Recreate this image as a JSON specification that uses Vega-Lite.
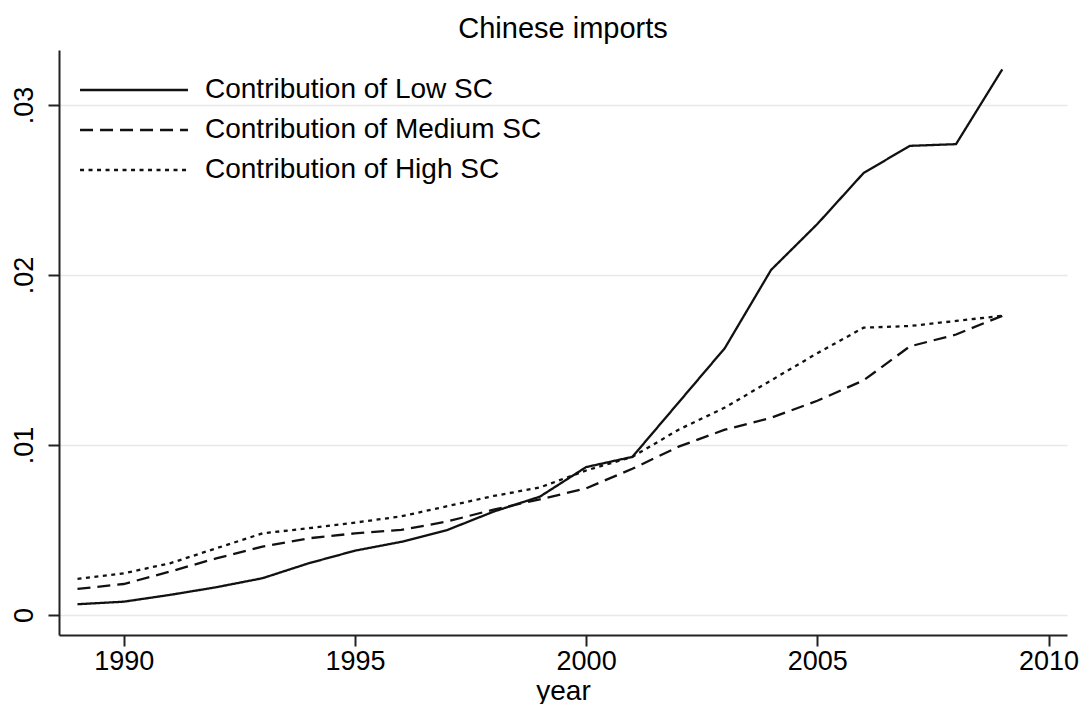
{
  "$schema": "https://vega.github.io/schema/vega-lite/v6.json",
  "width": 1008,
  "height": 585,
  "autosize": {"type": "none"},
  "padding": {"left": 59, "top": 50, "right": 16, "bottom": 69},
  "background": "white",
  "title": {"text": "Chinese imports", "fontSize": 29, "font": "Liberation Sans", "fontWeight": "normal", "color": "#000000", "anchor": "middle", "offset": 6},
  "config": {"view": {"stroke": null}, "font": "Liberation Sans"},
  "data": {
    "values": [
      {"year": 1989, "series": "Contribution of Low SC", "value": 0.00063},
      {"year": 1990, "series": "Contribution of Low SC", "value": 0.00078},
      {"year": 1991, "series": "Contribution of Low SC", "value": 0.00118},
      {"year": 1992, "series": "Contribution of Low SC", "value": 0.00163},
      {"year": 1993, "series": "Contribution of Low SC", "value": 0.00216},
      {"year": 1994, "series": "Contribution of Low SC", "value": 0.00304},
      {"year": 1995, "series": "Contribution of Low SC", "value": 0.00378},
      {"year": 1996, "series": "Contribution of Low SC", "value": 0.0043},
      {"year": 1997, "series": "Contribution of Low SC", "value": 0.005},
      {"year": 1998, "series": "Contribution of Low SC", "value": 0.00608},
      {"year": 1999, "series": "Contribution of Low SC", "value": 0.00696},
      {"year": 2000, "series": "Contribution of Low SC", "value": 0.0087},
      {"year": 2001, "series": "Contribution of Low SC", "value": 0.0093},
      {"year": 2002, "series": "Contribution of Low SC", "value": 0.0125},
      {"year": 2003, "series": "Contribution of Low SC", "value": 0.0157},
      {"year": 2004, "series": "Contribution of Low SC", "value": 0.0203},
      {"year": 2005, "series": "Contribution of Low SC", "value": 0.023},
      {"year": 2006, "series": "Contribution of Low SC", "value": 0.026},
      {"year": 2007, "series": "Contribution of Low SC", "value": 0.0276},
      {"year": 2008, "series": "Contribution of Low SC", "value": 0.0277},
      {"year": 2009, "series": "Contribution of Low SC", "value": 0.0321},
      {"year": 1989, "series": "Contribution of Medium SC", "value": 0.00153},
      {"year": 1990, "series": "Contribution of Medium SC", "value": 0.00182},
      {"year": 1991, "series": "Contribution of Medium SC", "value": 0.00255},
      {"year": 1992, "series": "Contribution of Medium SC", "value": 0.00333},
      {"year": 1993, "series": "Contribution of Medium SC", "value": 0.00402},
      {"year": 1994, "series": "Contribution of Medium SC", "value": 0.00451},
      {"year": 1995, "series": "Contribution of Medium SC", "value": 0.0048},
      {"year": 1996, "series": "Contribution of Medium SC", "value": 0.005},
      {"year": 1997, "series": "Contribution of Medium SC", "value": 0.0055},
      {"year": 1998, "series": "Contribution of Medium SC", "value": 0.0062},
      {"year": 1999, "series": "Contribution of Medium SC", "value": 0.0068},
      {"year": 2000, "series": "Contribution of Medium SC", "value": 0.00745},
      {"year": 2001, "series": "Contribution of Medium SC", "value": 0.0086},
      {"year": 2002, "series": "Contribution of Medium SC", "value": 0.0099},
      {"year": 2003, "series": "Contribution of Medium SC", "value": 0.0109},
      {"year": 2004, "series": "Contribution of Medium SC", "value": 0.0116},
      {"year": 2005, "series": "Contribution of Medium SC", "value": 0.0126},
      {"year": 2006, "series": "Contribution of Medium SC", "value": 0.0138},
      {"year": 2007, "series": "Contribution of Medium SC", "value": 0.0158},
      {"year": 2008, "series": "Contribution of Medium SC", "value": 0.0165},
      {"year": 2009, "series": "Contribution of Medium SC", "value": 0.0176},
      {"year": 1989, "series": "Contribution of High SC", "value": 0.00212},
      {"year": 1990, "series": "Contribution of High SC", "value": 0.00245},
      {"year": 1991, "series": "Contribution of High SC", "value": 0.00304},
      {"year": 1992, "series": "Contribution of High SC", "value": 0.00392},
      {"year": 1993, "series": "Contribution of High SC", "value": 0.0048},
      {"year": 1994, "series": "Contribution of High SC", "value": 0.0051},
      {"year": 1995, "series": "Contribution of High SC", "value": 0.00543},
      {"year": 1996, "series": "Contribution of High SC", "value": 0.0058},
      {"year": 1997, "series": "Contribution of High SC", "value": 0.0064},
      {"year": 1998, "series": "Contribution of High SC", "value": 0.007},
      {"year": 1999, "series": "Contribution of High SC", "value": 0.0075},
      {"year": 2000, "series": "Contribution of High SC", "value": 0.0085},
      {"year": 2001, "series": "Contribution of High SC", "value": 0.0093},
      {"year": 2002, "series": "Contribution of High SC", "value": 0.0109},
      {"year": 2003, "series": "Contribution of High SC", "value": 0.0122},
      {"year": 2004, "series": "Contribution of High SC", "value": 0.0138},
      {"year": 2005, "series": "Contribution of High SC", "value": 0.0154},
      {"year": 2006, "series": "Contribution of High SC", "value": 0.0169},
      {"year": 2007, "series": "Contribution of High SC", "value": 0.017},
      {"year": 2008, "series": "Contribution of High SC", "value": 0.0173},
      {"year": 2009, "series": "Contribution of High SC", "value": 0.0176}
    ]
  },
  "mark": {"type": "line", "strokeWidth": 2.3, "color": "#111111"},
  "encoding": {
    "x": {
      "field": "year", "type": "quantitative",
      "scale": {"domain": [1988.6, 2010.4], "nice": false, "zero": false},
      "axis": {
        "values": [1990, 1995, 2000, 2005, 2010], "format": "d",
        "title": "year", "titleFontSize": 28, "titleFontWeight": "normal", "titleColor": "#000000", "titlePadding": 3,
        "labelFontSize": 27, "labelColor": "#000000", "labelPadding": 2, "labelFlush": false,
        "tickSize": 11, "tickWidth": 2, "tickColor": "#222222",
        "domainColor": "#222222", "domainWidth": 2, "grid": false
      }
    },
    "y": {
      "field": "value", "type": "quantitative",
      "scale": {"domain": [-0.00118, 0.03324], "nice": false, "zero": false},
      "axis": {
        "values": [0, 0.01, 0.02, 0.03],
        "labelExpr": "datum.value == 0 ? '0' : replace(format(datum.value, '.2f'), '0.', '.')",
        "title": null,
        "labelAngle": -90, "labelAlign": "center", "labelBaseline": "bottom",
        "labelFontSize": 27, "labelColor": "#000000", "labelPadding": 10,
        "tickSize": 11, "tickWidth": 2, "tickColor": "#222222",
        "domainColor": "#222222", "domainWidth": 2,
        "grid": true, "gridColor": "#e8e8e8", "gridWidth": 1.5
      }
    },
    "strokeDash": {
      "field": "series", "type": "nominal",
      "scale": {
        "domain": ["Contribution of Low SC", "Contribution of Medium SC", "Contribution of High SC"],
        "range": [[1, 0], [13, 7], [4, 4.5]]
      },
      "legend": {
        "orient": "none", "legendX": 61, "legendY": 26, "title": null,
        "symbolType": "M-5,0H5", "symbolSize": 466, "symbolStrokeWidth": 2.3, "symbolStrokeColor": "#111111",
        "labelFontSize": 28, "labelColor": "#000000", "labelOffset": 57, "labelLimit": 600,
        "rowPadding": 12
      }
    }
  }
}
